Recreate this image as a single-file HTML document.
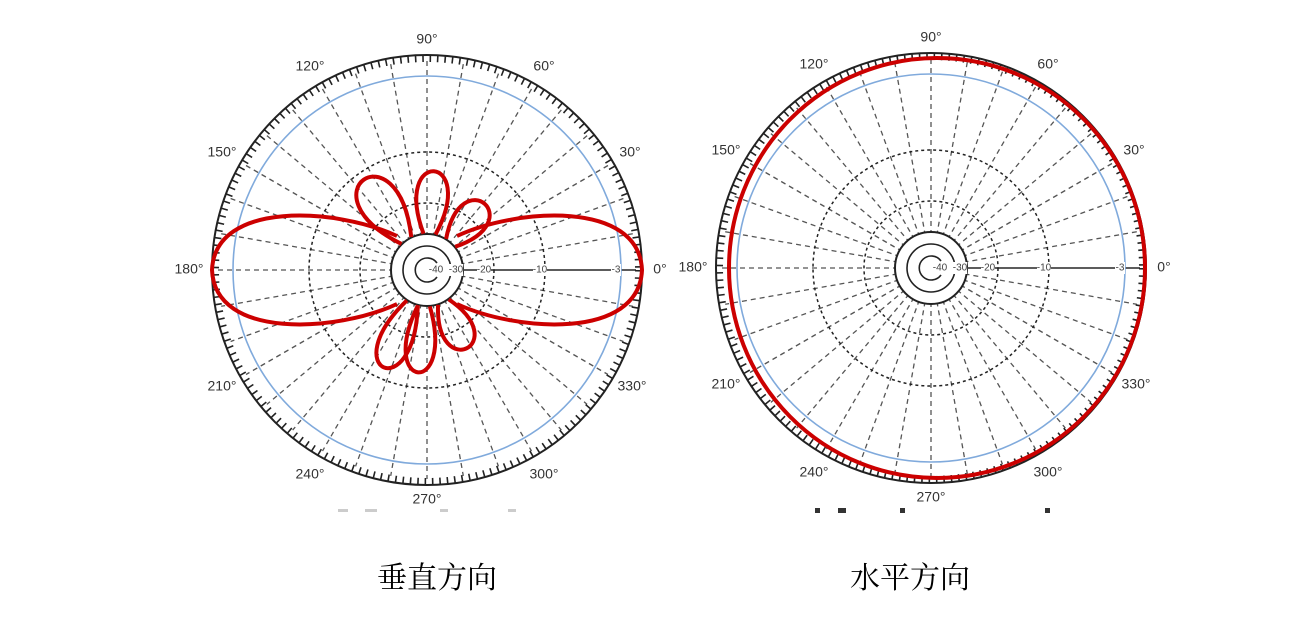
<!DOCTYPE html>
<html><head><meta charset="utf-8"><style>
html,body{margin:0;padding:0;background:#fff;}
svg{display:block}
.lbl{font-family:"Liberation Sans",sans-serif;font-size:14px;fill:#333;text-anchor:middle;dominant-baseline:middle}
.sc{font-family:"Liberation Sans",sans-serif;font-size:10px;fill:#444;text-anchor:middle;dominant-baseline:middle}
.cap{font-family:"Liberation Serif","Noto Serif CJK SC",serif;font-size:30px;fill:#000;text-anchor:middle}
</style></head><body>
<svg width="1313" height="617" viewBox="0 0 1313 617" xmlns="http://www.w3.org/2000/svg">
<defs>
<g id="grid">
  <g stroke="#555" stroke-width="1.3" stroke-dasharray="5 4" fill="none">
    <line x1="-209" y1="0" x2="-36" y2="0"/>
    <line x1="-209" y1="0" x2="209" y2="0" transform="rotate(10)"/>
    <line x1="-209" y1="0" x2="209" y2="0" transform="rotate(20)"/>
    <line x1="-209" y1="0" x2="209" y2="0" transform="rotate(30)"/>
    <line x1="-209" y1="0" x2="209" y2="0" transform="rotate(40)"/>
    <line x1="-209" y1="0" x2="209" y2="0" transform="rotate(50)"/>
    <line x1="-209" y1="0" x2="209" y2="0" transform="rotate(60)"/>
    <line x1="-209" y1="0" x2="209" y2="0" transform="rotate(70)"/>
    <line x1="-209" y1="0" x2="209" y2="0" transform="rotate(80)"/>
    <line x1="-209" y1="0" x2="209" y2="0" transform="rotate(90)"/>
    <line x1="-209" y1="0" x2="209" y2="0" transform="rotate(100)"/>
    <line x1="-209" y1="0" x2="209" y2="0" transform="rotate(110)"/>
    <line x1="-209" y1="0" x2="209" y2="0" transform="rotate(120)"/>
    <line x1="-209" y1="0" x2="209" y2="0" transform="rotate(130)"/>
    <line x1="-209" y1="0" x2="209" y2="0" transform="rotate(140)"/>
    <line x1="-209" y1="0" x2="209" y2="0" transform="rotate(150)"/>
    <line x1="-209" y1="0" x2="209" y2="0" transform="rotate(160)"/>
    <line x1="-209" y1="0" x2="209" y2="0" transform="rotate(170)"/>
  </g>
  <circle r="36" fill="#fff" stroke="#222" stroke-width="2"/>
  <circle r="24" fill="none" stroke="#222" stroke-width="1.6"/>
  <path d="M 10 -7 A 12 12 0 1 0 10 7" fill="none" stroke="#222" stroke-width="1.6"/>
  <line x1="36" y1="0" x2="209" y2="0" stroke="#444" stroke-width="1.8"/>
  <circle r="67" fill="none" stroke="#222" stroke-width="1.5" stroke-dasharray="3 3"/>
  <circle r="118" fill="none" stroke="#222" stroke-width="1.5" stroke-dasharray="3 3"/>
  <circle r="194" fill="none" stroke="#80aadc" stroke-width="1.6"/>
  <circle r="211.5" fill="none" stroke="#222" stroke-width="7" stroke-dasharray="1.6 5.8"/>
  <circle r="215" fill="none" stroke="#222" stroke-width="2"/>
  <g>
    <rect x="2" y="-6" width="14" height="12" fill="#fff"/><text class="sc" x="9" y="0">-40</text>
    <rect x="22" y="-6" width="14" height="12" fill="#fff"/><text class="sc" x="29" y="0">-30</text>
    <rect x="50" y="-6" width="14" height="12" fill="#fff"/><text class="sc" x="57" y="0">-20</text>
    <rect x="106" y="-6" width="14" height="12" fill="#fff"/><text class="sc" x="113" y="0">-10</text>
    <rect x="184" y="-6" width="10" height="12" fill="#fff"/><text class="sc" x="189" y="0">-3</text>
  </g>
  <g>
    <text class="lbl" x="233" y="0">0°</text>
    <text class="lbl" x="203" y="-117">30°</text>
    <text class="lbl" x="117" y="-203">60°</text>
    <text class="lbl" x="0" y="-230">90°</text>
    <text class="lbl" x="-117" y="-203">120°</text>
    <text class="lbl" x="-205" y="-117">150°</text>
    <text class="lbl" x="-238" y="0">180°</text>
    <text class="lbl" x="-205" y="117">210°</text>
    <text class="lbl" x="-117" y="205">240°</text>
    <text class="lbl" x="0" y="230">270°</text>
    <text class="lbl" x="117" y="205">300°</text>
    <text class="lbl" x="205" y="117">330°</text>
  </g>
</g>
</defs>

<use href="#grid" x="427" y="270"/>
<use href="#grid" x="931" y="268"/>

<!-- vertical pattern -->
<g transform="translate(427,270)" fill="none" stroke="#cc0000" stroke-width="4" stroke-linejoin="round">
  <path d="M 30 -34 C 90 -62, 212 -70, 215 0 C 212 70, 90 62, 30 34"/>
  <path d="M -30 -34 C -90 -62, -212 -70, -215 0 C -212 70, -90 62, -30 34"/>
  <g transform="rotate(-86)"><path d="M 36 -6 C 120 -44, 120 44, 36 6"/></g>
  <g transform="rotate(-125)"><path d="M 36 -6 C 135 -60, 135 60, 36 6"/></g>
  <g transform="rotate(-49)"><path d="M 36 -6 C 105 -46, 105 46, 36 6"/></g>
  <g transform="rotate(-246)"><path d="M 36 -6 C 130 -44, 130 44, 36 6"/></g>
  <g transform="rotate(-265)"><path d="M 36 -6 C 125 -40, 125 40, 36 6"/></g>
  <g transform="rotate(-297)"><path d="M 36 -6 C 105 -44, 105 44, 36 6"/></g>
</g>

<!-- horizontal pattern -->
<ellipse cx="937" cy="268" rx="208" ry="210" fill="none" stroke="#cc0000" stroke-width="4"/>

<g fill="#ccc">
  <rect x="338" y="509" width="10" height="3"/><rect x="365" y="509" width="12" height="3"/><rect x="440" y="509" width="8" height="3"/><rect x="508" y="509" width="8" height="3"/>
</g>
<g fill="#333">
  <rect x="815" y="508" width="5" height="5"/><rect x="838" y="508" width="8" height="5"/><rect x="900" y="508" width="5" height="5"/><rect x="1045" y="508" width="5" height="5"/>
</g>

<text class="cap" x="437" y="588">垂直方向</text>
<text class="cap" x="910" y="588">水平方向</text>
</svg>
</body></html>
